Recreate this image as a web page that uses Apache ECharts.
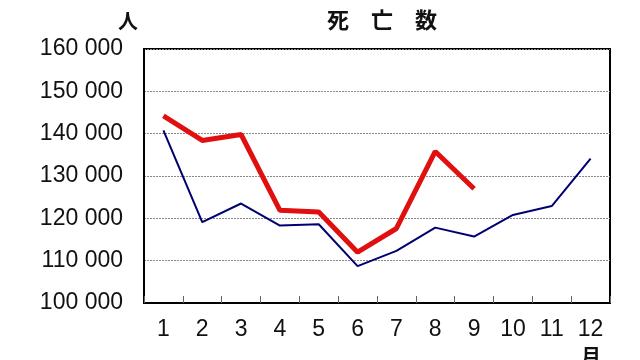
<!DOCTYPE html>
<html>
<head>
<meta charset="utf-8">
<script src="https://cdn.jsdelivr.net/npm/echarts@6/dist/echarts.min.js"></script>
<style>
html,body{margin:0;padding:0;background:#fff;}
#c{width:640px;height:360px;}
</style>
</head>
<body>
<div id="c"></div>
<script>
var months = ['1','2','3','4','5','6','7','8','9','10','11','12'];
var prevYear = [140800, 119100, 123500, 118300, 118600, 108700, 112300, 117800, 115700, 120800, 122900, 134100];
var thisYear = [144200, 138400, 139800, 121900, 121500, 112000, 117600, 135800, 127000];
var yTicks = [100000, 110000, 120000, 130000, 140000, 150000, 160000];

function fmt(v){ return String(v).replace(/\B(?=(\d{3})+(?!\d))/g, ' '); }

var chart = echarts.init(document.getElementById('c'), null, {renderer:'canvas'});
chart.setOption({
  animation: false,
  backgroundColor: '#fff',
  title: {
    text: '死　亡　数',
    left: 322,
    top: 4,
    textStyle: {fontFamily: 'Noto Sans CJK JP', fontSize: 22, fontWeight: 'bold', color: '#111'}
  },
  graphic: [
    {type:'text', left: 118, top: 11, style:{text:'人', font:'bold 20px "Noto Sans CJK JP"', fill:'#111'}},
    {type:'text', left: 581, top: 346, style:{text:'月', font:'bold 20px "Noto Sans CJK JP"', fill:'#111'}}
  ],
  grid: {left: 144, right: 30, top: 49, bottom: 57, show: true, borderColor: '#000', borderWidth: 2, containLabel: false},
  xAxis: {
    type: 'category',
    data: months,
    boundaryGap: true,
    axisLine: {show: true, lineStyle: {color: '#000', width: 2}},
    axisTick: {show: true, inside: true, length: 7, interval: 0, lineStyle: {color: '#666', width: 1}},
    axisLabel: {interval: 0, margin: 15, color: '#111', fontFamily: 'Liberation Sans', fontSize: 23},
    splitLine: {show: false}
  },
  yAxis: {
    type: 'value',
    min: yTicks[0],
    max: yTicks[yTicks.length-1],
    interval: yTicks[1]-yTicks[0],
    axisLine: {show: true, lineStyle: {color: '#000', width: 2}},
    axisTick: {show: false},
    axisLabel: {margin: 21, color: '#111', fontFamily: 'Liberation Sans', fontSize: 23, formatter: fmt},
    splitLine: {show: true, lineStyle: {color: '#888', width: 1, type: [2,1]}}
  },
  series: [
    {type:'line', data: prevYear, symbol:'none', lineStyle:{color:'#000070', width:2}, z: 2},
    {type:'line', data: thisYear, symbol:'none', lineStyle:{color:'#e01010', width:5}, z: 3}
  ]
});
</script>
</body>
</html>
